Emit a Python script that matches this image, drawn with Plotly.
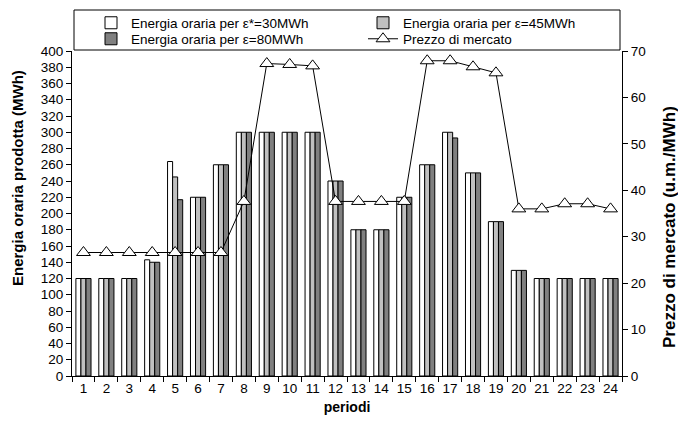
import plotly.graph_objects as go

periods = [str(i) for i in range(1, 25)]
energy_30 = [120, 120, 120, 143, 264, 220, 260, 300, 300, 300, 300, 240,
             180, 180, 220, 260, 300, 250, 190, 130, 120, 120, 120, 120]
energy_45 = [120, 120, 120, 140, 245, 220, 260, 300, 300, 300, 300, 240,
             180, 180, 220, 260, 300, 250, 190, 130, 120, 120, 120, 120]
energy_80 = [120, 120, 120, 140, 217, 220, 260, 300, 300, 300, 300, 240,
             180, 180, 220, 260, 293, 250, 190, 130, 120, 120, 120, 120]
price = [26.6, 26.6, 26.6, 26.6, 26.6, 26.6, 26.6, 37.6, 67.3, 67.1, 66.8, 37.6,
         37.6, 37.6, 37.6, 67.9, 67.9, 66.6, 65.3, 36.0, 36.0, 37.1, 37.1, 36.0]

FONT = "Liberation Sans, Arial, sans-serif"
W, H = 678, 425
L, R, T, B = 72, 56, 51, 49
PW, PH = W - L - R, H - T - B

def px_x(px):
    return (px - L) / PW

def px_y(px):
    return (H - B - px) / PH

fig = go.Figure()
fig.add_trace(go.Bar(x=periods, y=energy_30, name="Energia oraria per \u03b5*=30MWh",
                     legend="legend",
                     marker=dict(color="white", line=dict(color="black", width=1))))
fig.add_trace(go.Bar(x=periods, y=energy_45, name="Energia oraria per \u03b5=45MWh",
                     legend="legend2",
                     marker=dict(color="#c0c0c0", line=dict(color="black", width=1))))
fig.add_trace(go.Bar(x=periods, y=energy_80, name="Energia oraria per \u03b5=80MWh",
                     legend="legend3",
                     marker=dict(color="#808080", line=dict(color="black", width=1))))
fig.add_trace(go.Scatter(x=periods, y=price, name="Prezzo di mercato", yaxis="y2",
                         legend="legend4",
                         mode="lines+markers",
                         line=dict(color="black", width=1),
                         marker=dict(symbol="triangle-up", size=12, color="white",
                                     line=dict(color="black", width=1))))

leg_common = dict(orientation="h", xanchor="left", yanchor="middle", itemwidth=30,
                  borderwidth=0, bgcolor="rgba(0,0,0,0)",
                  font=dict(size=13.5, family=FONT))

fig.update_layout(
    width=W, height=H,
    margin=dict(l=L, r=R, t=T, b=B, autoexpand=False),
    paper_bgcolor="white", plot_bgcolor="white",
    font=dict(family=FONT, size=13, color="black"),
    barmode="group", bargap=0.34, bargroupgap=0,
    showlegend=True,
    legend=dict(x=px_x(91), y=px_y(23), **leg_common),
    legend2=dict(x=px_x(363), y=px_y(23), **leg_common),
    legend3=dict(x=px_x(91), y=px_y(39), **leg_common),
    legend4=dict(x=px_x(363), y=px_y(39), **leg_common),
    shapes=[dict(type="rect", xref="paper", yref="paper",
                 x0=px_x(74), x1=px_x(620), y0=px_y(50), y1=px_y(10),
                 line=dict(color="black", width=1), fillcolor="rgba(0,0,0,0)")],
    annotations=[
        dict(text="<b>Energia oraria prodotta (MWh)</b>", textangle=-90,
             xref="paper", yref="paper", x=px_x(17), y=px_y(178),
             xanchor="center", yanchor="middle", showarrow=False,
             font=dict(size=15, family=FONT)),
        dict(text="<b>Prezzo di mercato (u.m./MWh)</b>", textangle=-90,
             xref="paper", yref="paper", x=px_x(669), y=px_y(227),
             xanchor="center", yanchor="middle", showarrow=False,
             font=dict(size=17, family=FONT)),
    ],
    xaxis=dict(type="category", range=[-0.5, 23.5], autorange=False,
               tickson="boundaries", ticks="outside", ticklen=5,
               tickcolor="black", showline=True, linecolor="black", linewidth=1,
               showgrid=False, tickfont=dict(size=13.5), tickangle=0, automargin=False,
               title=dict(text="<b>periodi</b>", font=dict(size=14), standoff=6)),
    yaxis=dict(range=[0, 400], dtick=20, ticks="outside", ticklen=5, tickcolor="black",
               showline=True, linecolor="black", linewidth=1,
               showgrid=False, zeroline=False, automargin=False,
               tickfont=dict(size=13.5)),
    yaxis2=dict(range=[0, 70], dtick=10, overlaying="y", side="right",
                ticks="outside", ticklen=5, tickcolor="black",
                showline=True, linecolor="black", linewidth=1, automargin=False,
                showgrid=False, zeroline=False, tickfont=dict(size=13.5)),
)

fig.write_html("out.html", config={"displayModeBar": False},
               post_script="document.body.style.margin='0';document.body.style.padding='0';")
